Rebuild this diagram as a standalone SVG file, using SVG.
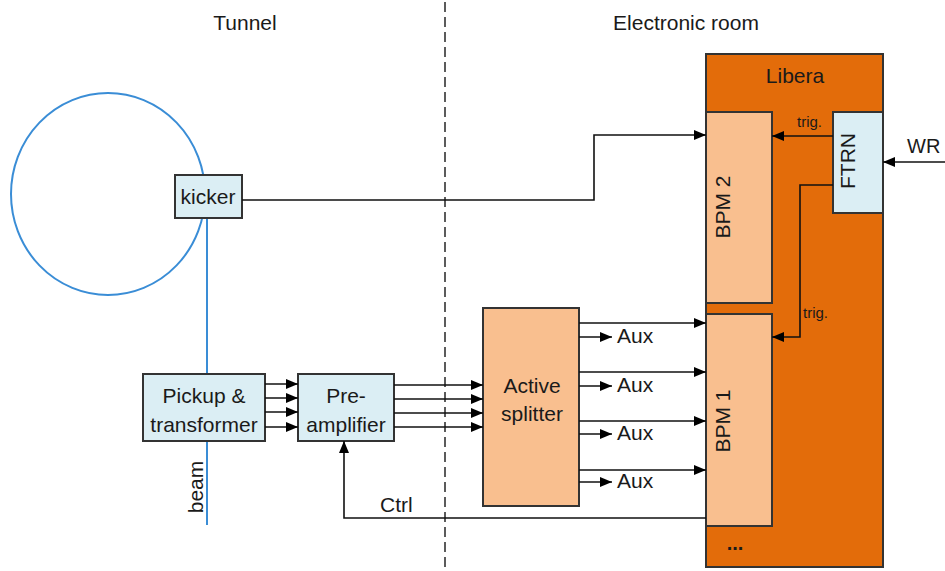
<svg xmlns="http://www.w3.org/2000/svg" width="945" height="571" viewBox="0 0 945 571">
<defs>
<marker id="ah" viewBox="0 0 12 10" refX="12" refY="5" markerWidth="12" markerHeight="10" markerUnits="userSpaceOnUse" orient="auto">
<path d="M0,0 L12,5 L0,10 z" fill="#000"/>
</marker>
<style>
text{font-family:"Liberation Sans",Arial,sans-serif;fill:#1a1a1a}
.t{font-size:21px;text-anchor:middle}
.s{font-size:15px}
.box{stroke:#333;stroke-width:2}
.blue{fill:#DBEEF4}
.peach{fill:#F9BF8F}
.w{fill:none;stroke:#111;stroke-width:1.6}
.a{marker-end:url(#ah)}
.beam{fill:none;stroke:#3A8DD6;stroke-width:2}
</style>
</defs>
<rect width="945" height="571" fill="#fff"/>
<line x1="445" y1="2" x2="445" y2="571" stroke="#333" stroke-width="1.6" stroke-dasharray="10 5"/>
<text class="t" x="245" y="30">Tunnel</text>
<text class="t" x="686" y="30">Electronic room</text>

<ellipse cx="108" cy="194" rx="97" ry="101" class="beam"/>
<line x1="207" y1="218" x2="207" y2="374" class="beam"/>
<line x1="207" y1="441" x2="207" y2="525" class="beam"/>
<text class="t" transform="translate(203,487) rotate(-90)">beam</text>

<g id="libera">
<rect x="706" y="54" width="177" height="513" fill="#E36C0A" class="box"/>
<text class="t" x="795" y="83">Libera</text>
<text x="735" y="550" style="font-size:20px;font-weight:bold;text-anchor:middle">...</text>
</g>
<g id="bpm2">
<rect x="706" y="112" width="66" height="191" class="box peach"/>
<text class="t" transform="translate(730,207) rotate(-90)">BPM 2</text>
</g>
<g id="bpm1">
<rect x="706" y="314" width="66" height="212" class="box peach"/>
<text class="t" transform="translate(730,421) rotate(-90)">BPM 1</text>
</g>
<g id="ftrn">
<rect x="833" y="112" width="50" height="101" class="box blue"/>
<text class="t" transform="translate(855,161) rotate(-90)">FTRN</text>
</g>
<g id="kicker">
<rect x="175" y="175" width="67" height="43" class="box blue"/>
<text class="t" x="208" y="204">kicker</text>
</g>
<g id="pickup">
<rect x="143" y="374" width="122" height="67" class="box blue"/>
<text class="t" x="204" y="403">Pickup &amp;</text>
<text class="t" x="204" y="432">transformer</text>
</g>
<g id="preamp">
<rect x="298" y="374" width="96" height="67" class="box blue"/>
<text class="t" x="346" y="403">Pre-</text>
<text class="t" x="346" y="432">amplifier</text>
</g>
<g id="splitter">
<rect x="483" y="308" width="96" height="198" class="box peach"/>
<text class="t" x="532" y="393">Active</text>
<text class="t" x="532" y="421">splitter</text>
</g>

<g id="connectors">
<polyline class="w a" points="242,200 594,200 594,135 706,135"/>
<line class="w a" x1="833" y1="136" x2="772" y2="136"/>
<text class="s" x="797" y="127">trig.</text>
<line class="w a" x1="945" y1="162" x2="883" y2="162"/>
<text x="907" y="153" style="font-size:20px">WR</text>
<polyline class="w a" points="833,185 800,185 800,337 772,337"/>
<text class="s" x="803" y="318">trig.</text>

<line class="w a" x1="265" y1="384" x2="298" y2="384"/>
<line class="w a" x1="265" y1="398" x2="298" y2="398"/>
<line class="w a" x1="265" y1="412" x2="298" y2="412"/>
<line class="w a" x1="265" y1="427" x2="298" y2="427"/>

<line class="w a" x1="394" y1="385" x2="483" y2="385"/>
<line class="w a" x1="394" y1="399" x2="483" y2="399"/>
<line class="w a" x1="394" y1="413" x2="483" y2="413"/>
<line class="w a" x1="394" y1="427" x2="483" y2="427"/>

<line class="w a" x1="579" y1="323" x2="706" y2="323"/>
<line class="w a" x1="579" y1="372" x2="706" y2="372"/>
<line class="w a" x1="579" y1="421" x2="706" y2="421"/>
<line class="w a" x1="579" y1="470" x2="706" y2="470"/>

<line class="w a" x1="579" y1="337" x2="612" y2="337"/>
<line class="w a" x1="579" y1="386" x2="612" y2="386"/>
<line class="w a" x1="579" y1="434" x2="612" y2="434"/>
<line class="w a" x1="579" y1="482" x2="612" y2="482"/>
<text x="617" y="343" style="font-size:21px">Aux</text>
<text x="617" y="392" style="font-size:21px">Aux</text>
<text x="617" y="440" style="font-size:21px">Aux</text>
<text x="617" y="488" style="font-size:21px">Aux</text>

<polyline class="w a" points="706,518 344,518 344,441"/>
<text x="380" y="512" style="font-size:21px">Ctrl</text>
</g>
</svg>
